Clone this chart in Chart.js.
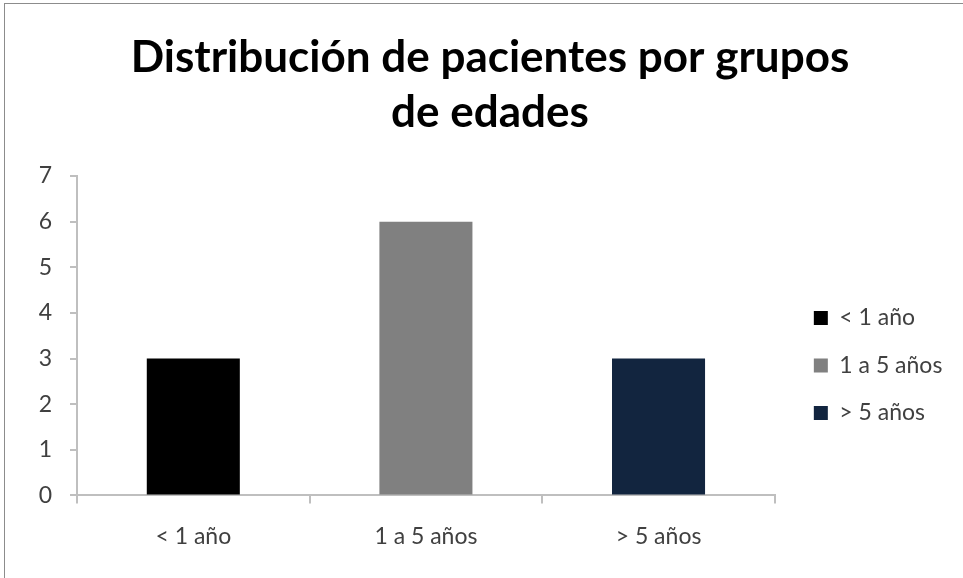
<!DOCTYPE html>
<html>
<head>
<meta charset="utf-8">
<script src="https://cdn.jsdelivr.net/npm/chart.js@4"></script>
<style>
  html, body { margin: 0; padding: 0; background: #fff; }
  #wrap { position: absolute; left: 4px; top: 3px; width: 980px; height: 600px; border: 1px solid #8c8c8c; box-sizing: border-box; }
  #c { position: absolute; left: 0; top: 0; }
</style>
</head>
<body>
<div id="wrap"></div>
<canvas id="c" width="963" height="578"></canvas>
<script>
const categories = ["< 1 año", "1 a 5 años", "> 5 años"];
const values = [3, 6, 3];
const barColors = ["#000000", "#808080", "#12253f"];
const yTicks = [0, 1, 2, 3, 4, 5, 6, 7];
const titleLines = ["Distribución de pacientes por grupos", "de edades"];

const axisColor = "#bfbfbf";
const textColor = "#404040";
const fontFam = "Lato, 'Open Sans', sans-serif";

// widen the legend box a little so its longest label is not clipped
const legendSlack = {
  id: "legendSlack",
  beforeLayout(chart) {
    const lg = chart.legend;
    if (lg && !lg._slackPatched) {
      const origFit = lg.fit.bind(lg);
      lg.fit = function () { origFit(); this.width += 12; };
      lg._slackPatched = true;
    }
  }
};

new Chart(document.getElementById("c"), {
  type: "bar",
  data: {
    labels: categories,
    datasets: [{
      data: values,
      backgroundColor: barColors,
      borderWidth: 0,
      barPercentage: 0.4,
      categoryPercentage: 1.0
    }]
  },
  plugins: [legendSlack],
  options: {
    responsive: false,
    animation: false,
    layout: { padding: { left: 23, right: 6, top: 0, bottom: 9 } },
    plugins: {
      title: {
        display: true,
        text: titleLines,
        color: "#000000",
        font: { family: fontFam, size: 44, weight: "bold", lineHeight: 1.25 },
        padding: { top: 30.5, bottom: 35.5 }
      },
      legend: {
        display: true,
        position: "right",
        title: { display: true, text: "", font: { size: 10, lineHeight: 1 }, padding: { top: 152, bottom: 0 } },
        labels: {
          color: textColor,
          font: { family: fontFam, size: 23 },
          boxWidth: 14,
          boxHeight: 14,
          padding: 24.5,
          generateLabels: (chart) => categories.map((c, i) => ({
            text: c,
            fillStyle: barColors[i],
            strokeStyle: barColors[i],
            lineWidth: 0,
            hidden: false,
            index: i,
            fontColor: textColor
          }))
        }
      },
      tooltip: { enabled: false }
    },
    scales: {
      x: {
        grid: { display: true, drawOnChartArea: false, offset: true, color: axisColor, tickLength: 8, lineWidth: 2 },
        border: { color: axisColor, width: 2 },
        ticks: { color: textColor, font: { family: fontFam, size: 23 }, padding: 19, maxRotation: 0 }
      },
      y: {
        min: 0,
        max: 7,
        afterBuildTicks: (axis) => { axis.ticks = yTicks.map(v => ({ value: v })); },
        afterFit: (axis) => { axis.width = 54; },
        grid: { display: true, drawOnChartArea: false, color: axisColor, tickLength: 7, lineWidth: 2 },
        border: { color: axisColor, width: 2 },
        ticks: { color: textColor, font: { family: fontFam, size: 23 }, padding: 18 }
      },
      gap: {
        type: "linear",
        position: "right",
        display: true,
        grid: { display: false, drawOnChartArea: false },
        border: { display: false },
        ticks: { display: false },
        afterFit: (axis) => { axis.width = 14.5; }
      }
    }
  }
});
</script>
</body>
</html>
